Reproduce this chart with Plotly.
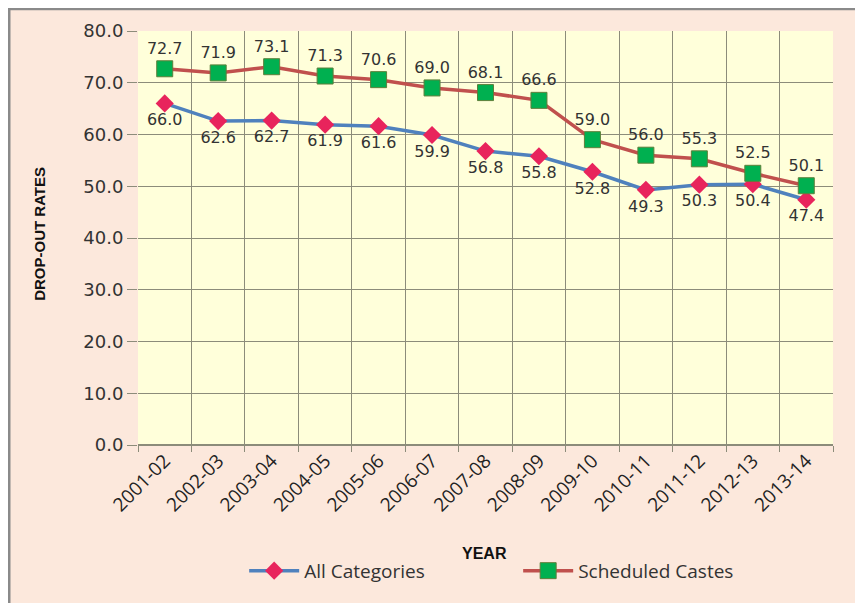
import plotly.graph_objects as go

years = ["2001-02", "2002-03", "2003-04", "2004-05", "2005-06", "2006-07", "2007-08",
         "2008-09", "2009-10", "2010-11", "2011-12", "2012-13", "2013-14"]
all_categories = [66.0, 62.6, 62.7, 61.9, 61.6, 59.9, 56.8, 55.8, 52.8, 49.3, 50.3, 50.4, 47.4]
scheduled_castes = [72.7, 71.9, 73.1, 71.3, 70.6, 69.0, 68.1, 66.6, 59.0, 56.0, 55.3, 52.5, 50.1]
y_ticks = [0, 10, 20, 30, 40, 50, 60, 70, 80]

label_font = dict(family="DejaVu Sans", size=16, color="#333333")
grid = "#8C8C7A"

fig = go.Figure()
fig.add_trace(go.Scatter(
    x=years, y=all_categories, name="All Categories",
    mode="lines+markers+text",
    line=dict(color="#4F81BD", width=3.5),
    marker=dict(symbol="diamond", size=14, color="#E8245C"),
    text=[f"{v:.1f}" for v in all_categories], textposition="bottom center",
    textfont=label_font,
))
fig.add_trace(go.Scatter(
    x=years, y=scheduled_castes, name="Scheduled Castes",
    mode="lines+markers+text",
    line=dict(color="#C0504D", width=3.5),
    marker=dict(symbol="square", size=16, color="#00B050", line=dict(color="#5E7F3A", width=1)),
    text=[f"{v:.1f}" for v in scheduled_castes], textposition="top center",
    textfont=label_font,
))

fig.update_layout(
    width=855, height=595,
    margin=dict(l=130, r=30, t=23, b=158, autoexpand=False),
    paper_bgcolor="#FCE8DC",
    plot_bgcolor="#FFFFDA",
    showlegend=True,
    legend=dict(orientation="h", x=0.547, xanchor="center", y=-0.258, yanchor="top",
                font=dict(family="Open Sans", size=19, color="#333333"),
                bgcolor="rgba(0,0,0,0)", itemwidth=50,
                entrywidth=209, entrywidthmode="pixels"),
    xaxis=dict(
        type="category", range=[-0.5, 12.5], tickson="boundaries",
        showgrid=True, gridcolor=grid, gridwidth=1,
        ticks="outside", ticklen=6, tickcolor=grid,
        tickangle=-45, tickfont=dict(family="Open Sans", size=19, color="#222222"),
        showline=False, zeroline=False, automargin=False,
    ),
    yaxis=dict(
        range=[0, 80], tickvals=y_ticks, tickformat=".1f",
        showgrid=True, gridcolor=grid, gridwidth=1,
        ticks="outside", ticklen=10, tickcolor=grid,
        tickfont=dict(family="DejaVu Sans", size=18, color="#333333"),
        showline=False, zeroline=True, zerolinecolor=grid, automargin=False,
    ),
    annotations=[
        dict(text="<b>YEAR</b>", xref="paper", yref="paper", x=0.499, y=-0.262,
             showarrow=False, xanchor="center", yanchor="middle",
             font=dict(family="Liberation Sans", size=16, color="#111111")),
        dict(text="<b>DROP-OUT RATES</b>", xref="paper", yref="paper", x=-0.141, y=0.51,
             showarrow=False, xanchor="center", yanchor="middle", textangle=-90,
             font=dict(family="Liberation Sans", size=15, color="#111111")),
    ],
    shapes=[
        dict(type="line", xref="paper", yref="paper", x0=-0.19, x1=1.1, y0=1.053, y1=1.053,
             line=dict(color="#8A8A8A", width=2.5), layer="above"),
        dict(type="line", xref="paper", yref="paper", x0=-0.1856, x1=-0.1856, y0=-0.5, y1=1.055,
             line=dict(color="#8A8A8A", width=3), layer="above"),
    ],
)

fig.write_html("out.html")
